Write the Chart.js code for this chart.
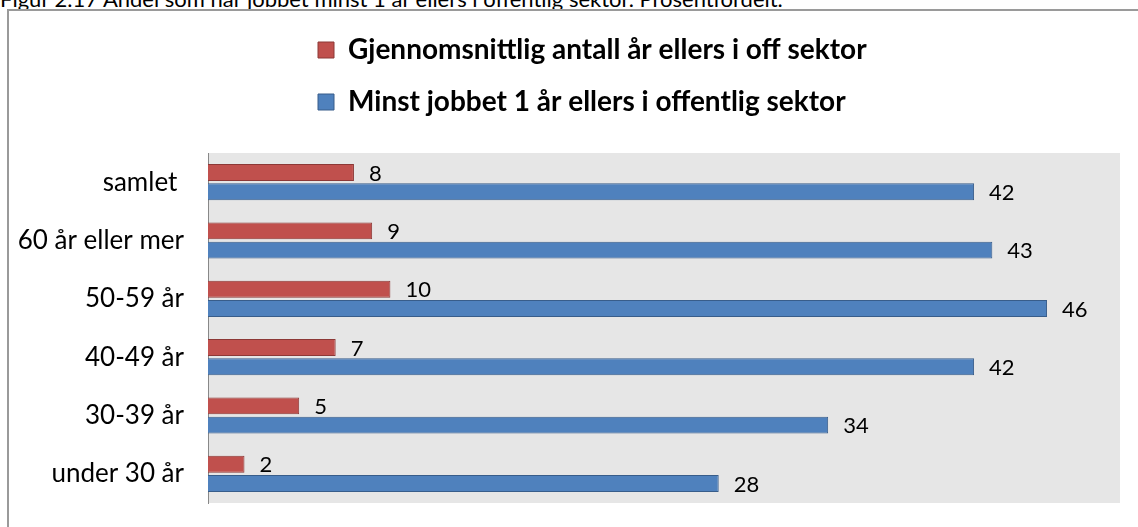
<!DOCTYPE html>
<html>
<head>
<meta charset="utf-8">
<script src="https://cdn.jsdelivr.net/npm/chart.js@4.4.1/dist/chart.umd.min.js"></script>
<style>
    body { margin: 0; background: #fff; overflow: hidden; }
    #caption {
        position: absolute; left: 0; top: -12px;
        font-family: Lato, sans-serif; font-size: 22px; line-height: 22px; color: #000;
        white-space: nowrap;
    }
    #frame {
        position: absolute; left: 7px; top: 9px; right: 0; bottom: 0;
        border-left: 2px solid #9a9a9a; border-top: 2px solid #9a9a9a;
    }
    #wrap { position: absolute; left: 8px; top: 10px; width: 1130px; height: 517px; }
</style>
</head>
<body>
<div id="caption">Figur 2.17 Andel som har jobbet minst 1 år ellers i offentlig sektor. Prosentfordelt.</div>
<div id="frame"></div>
<div id="wrap"><canvas id="myChart" width="1130" height="517"></canvas></div>
<script>
// data
const categories = ['samlet ', '60 år eller mer', '50-59 år', '40-49 år', '30-39 år', 'under 30 år'];
const seriesNames = ['Gjennomsnittlig antall år ellers i off sektor', 'Minst jobbet 1 år ellers i offentlig sektor'];
const avgYears = [8, 9, 10, 7, 5, 2];
const minOneYear = [42, 43, 46, 42, 34, 28];

document.addEventListener('DOMContentLoaded', function() {
    const ctx = document.getElementById('myChart').getContext('2d');

    // grey plot background
    const plotBg = {
        id: 'plotBg',
        beforeDraw(chart) {
            const a = chart.chartArea;
            const c = chart.ctx;
            c.save();
            c.fillStyle = '#e6e6e6';
            c.fillRect(a.left, a.top, a.right - a.left, a.bottom - a.top);
            c.restore();
        }
    };

    // one legend item per row, left aligned like the original, room above the plot
    const legendRows = {
        id: 'legendRows',
        beforeLayout(chart) {
            const lg = chart.legend;
            if (!lg || lg._patched) return;
            const fit = lg.fit;
            lg.fit = function() {
                this.maxWidth = 600;
                fit.call(this);
                this.height = 141;
            };
            lg._patched = true;
        },
        afterLayout(chart) {
            if (chart.legend) chart.legend.left = 286;
        }
    };

    // value labels right of each bar
    const valueLabels = {
        id: 'valueLabels',
        afterDatasetsDraw(chart) {
            const c = chart.ctx;
            c.save();
            c.font = '22px Lato, sans-serif';
            c.fillStyle = '#000';
            c.textAlign = 'left';
            c.textBaseline = 'middle';
            chart.data.datasets.forEach((ds, i) => {
                chart.getDatasetMeta(i).data.forEach((bar, j) => {
                    c.fillText(ds.data[j], bar.x + 15, bar.y + 1);
                });
            });
            c.restore();
        }
    };

    new Chart(ctx, {
        type: 'bar',
        data: {
            labels: categories,
            datasets: [{
                label: seriesNames[0],
                data: avgYears,
                backgroundColor: '#c0504d',
                borderColor: '#8c3836',
                borderWidth: 1
            }, {
                label: seriesNames[1],
                data: minOneYear,
                backgroundColor: '#4f81bd',
                borderColor: '#385d8a',
                borderWidth: 1
            }]
        },
        options: {
            indexAxis: 'y',
            responsive: false,
            maintainAspectRatio: false,
            animation: false,
            devicePixelRatio: 1,
            categoryPercentage: 0.66,
            barPercentage: 0.88,
            layout: { padding: { left: 0, right: 18, top: 2, bottom: 24 } },
            scales: {
                x: {
                    display: false,
                    min: 0,
                    max: 50
                },
                y: {
                    grid: { display: false, drawTicks: false },
                    border: { display: true, color: '#888', width: 1 },
                    ticks: {
                        padding: 24,
                        color: '#000',
                        font: { family: 'Lato', size: 26 }
                    },
                    afterFit(scale) {
                        scale.width = 200;
                        scale.paddingTop = 0;
                        scale.paddingBottom = 0;
                    }
                }
            },
            plugins: {
                legend: {
                    position: 'top',
                    align: 'start',
                    labels: {
                        color: '#000',
                        boxWidth: 16,
                        boxHeight: 16,
                        padding: 24,
                        font: { family: 'Lato', size: 28, weight: 'bold' }
                    }
                },
                tooltip: { enabled: false }
            }
        },
        plugins: [plotBg, legendRows, valueLabels]
    });
});
</script>
</body>
</html>
